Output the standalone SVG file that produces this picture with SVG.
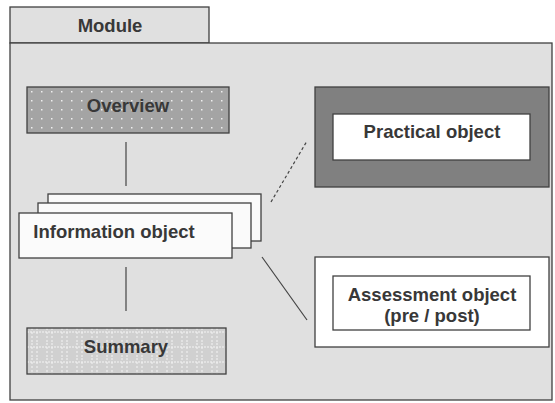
<svg xmlns="http://www.w3.org/2000/svg" width="555" height="403" viewBox="0 0 555 403">
<style>
.box{stroke:#404040;stroke-width:1.3}
.lbl{font-family:"Liberation Sans",Arial,sans-serif;font-weight:bold;font-size:18.5px;fill:#383838;text-anchor:middle}
.conn{stroke:#444;stroke-width:1.2;fill:none}
</style>
<defs>
<pattern id="dots" width="10" height="9" patternUnits="userSpaceOnUse" x="29" y="89">
<rect width="10" height="9" fill="#a4a4a4"/>
<rect x="2" y="2" width="1.5" height="1.5" fill="#eee"/>
</pattern>
<pattern id="grid" width="15" height="15" patternUnits="userSpaceOnUse" x="27" y="328">
<rect width="15" height="15" fill="#d0d0d0"/>
<line x1="5" y1="0" x2="5" y2="15" stroke="#f4f4f4" stroke-width="1" stroke-dasharray="2,2"/>
<line x1="10" y1="0" x2="10" y2="15" stroke="#f4f4f4" stroke-width="1" stroke-dasharray="2,2"/>
<line x1="0" y1="4" x2="15" y2="4" stroke="#f4f4f4" stroke-width="1" stroke-dasharray="2,1"/>
</pattern>
</defs>
<rect width="555" height="403" fill="#fff"/>
<g id="module">
<rect class="box" x="10" y="7" width="199" height="36" fill="#e0e0e0"/>
<rect class="box" x="10" y="43" width="542" height="357" fill="#e0e0e0"/>
<text class="lbl" x="110" y="32">Module</text>
</g>
<g id="connectors">
<line class="conn" x1="126" y1="142" x2="126" y2="186"/>
<line class="conn" x1="126" y1="267" x2="126" y2="311"/>
<line class="conn" x1="271" y1="202" x2="307" y2="141" stroke-dasharray="3,2.5"/>
<line class="conn" x1="262" y1="257" x2="307" y2="320"/>
</g>
<g id="overview">
<rect class="box" x="27" y="87" width="202" height="46" fill="url(#dots)"/>
<text class="lbl" x="128" y="112">Overview</text>
</g>
<g id="information">
<rect class="box" x="48" y="194" width="213" height="47" fill="#fafafa"/>
<rect class="box" x="38" y="203" width="213" height="45" fill="#fafafa"/>
<rect class="box" x="19" y="213" width="213" height="45" fill="#fbfbfb"/>
<text class="lbl" x="114" y="238">Information object</text>
</g>
<g id="summary">
<rect class="box" x="27" y="328" width="199" height="46" fill="url(#grid)"/>
<text class="lbl" x="126" y="353">Summary</text>
</g>
<g id="practical">
<rect class="box" x="315" y="87" width="234" height="100" fill="#808080"/>
<rect class="box" x="333" y="114" width="197" height="46" fill="#fff"/>
<text class="lbl" x="432" y="138">Practical object</text>
</g>
<g id="assessment">
<rect class="box" x="315" y="257" width="234" height="90" fill="#fff"/>
<rect class="box" x="333" y="276" width="197" height="54" fill="#fff"/>
<text class="lbl" x="432" y="301">Assessment object</text>
<text class="lbl" x="432" y="322">(pre / post)</text>
</g>
</svg>
